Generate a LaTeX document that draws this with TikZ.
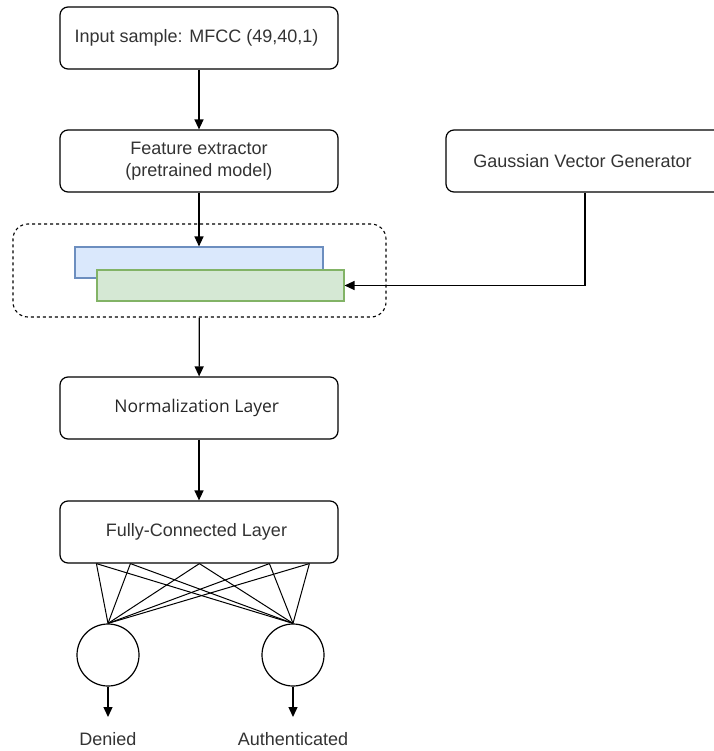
\documentclass[tikz,border=0pt]{standalone}
\usepackage{fontspec}
\setmainfont{Liberation Sans}
\newfontfamily\normfont{Open Sans}
\usetikzlibrary{arrows.meta}

\definecolor{vecblue}{HTML}{DAE8FC}
\definecolor{vecblueline}{HTML}{6C8EBF}
\definecolor{vecgreen}{HTML}{D5E8D4}
\definecolor{vecgreenline}{HTML}{82B366}
\definecolor{txtgray}{HTML}{333333}

\tikzset{
  layerbox/.style={draw, line width=1.2pt, rounded corners=8pt,
    minimum width=278pt, minimum height=62pt, align=center,
    font=\fontsize{18}{22}\selectfont, text=txtgray},
  neuron/.style={circle, draw, line width=1.2pt, minimum size=62pt, inner sep=0pt},
  outlabel/.style={font=\fontsize{18}{22}\selectfont, text=txtgray, inner sep=0pt, anchor=north},
  flow/.style={-{Triangle[length=10pt,width=9pt]}, line width=1.3pt},
  wire/.style={line width=1pt}
}

\begin{document}
\begin{tikzpicture}[x=1pt, y=-1pt]
\useasboundingbox (0,0) rectangle (713,751);

% Bloecke
\node[layerbox] (inp)  at (199, 38)  { Input sample: MFCC (49,40,1) };
\node[layerbox] (feat) at (199, 161) { Feature extractor\\(pretrained model) };
\node[layerbox] (gauss) at (585, 161) { Gaussian Vector Generator };

% Vektoren
\node[draw, dashed, line width=1.1pt, rounded corners=15pt,
      minimum width=373pt, minimum height=93pt] (concat) at (199.5, 270.5) {};
\node[draw=vecblueline, fill=vecblue, line width=1.1pt,
      minimum width=248pt, minimum height=31pt] (embed) at (199, 262.5) {};
\node[draw=vecgreenline, fill=vecgreen, line width=1.1pt,
      minimum width=247pt, minimum height=31pt] (noise) at (220.5, 285.5) {};

\node[layerbox, font=\normfont\fontsize{17.5}{21}\selectfont, text=black!85] (norm) at (199, 408) { Normalization Layer };
\node[layerbox] (fc)   at (199, 532) { Fully-Connected Layer };

% Ausgaben
\node[neuron] (den)  at (108, 655) {};
\node[neuron] (auth) at (293, 655) {};
\node[outlabel] (denlab)  at (108, 732) { Denied };
\node[outlabel] (authlab) at (293, 732) { Authenticated };

\draw[flow] (inp) -- (feat);
\draw[flow] (feat) -- (embed);
\draw[flow] (gauss) |- (noise);
\draw[flow] (concat) -- (norm);
\draw[flow] (norm) -- (fc);

% Verbindungen (fc -> Neuronen)
\foreach \x in {37, 71, 140, 210, 250} {
  \draw[wire] (fc.south west) ++(\x,0) coordinate (tap) -- (den.north);
  \draw[wire] (tap) -- (auth.north);
}

\draw[flow, shorten >=15pt] (den) -- (denlab);
\draw[flow, shorten >=15pt] (auth) -- (authlab);

\end{tikzpicture}
\end{document}
